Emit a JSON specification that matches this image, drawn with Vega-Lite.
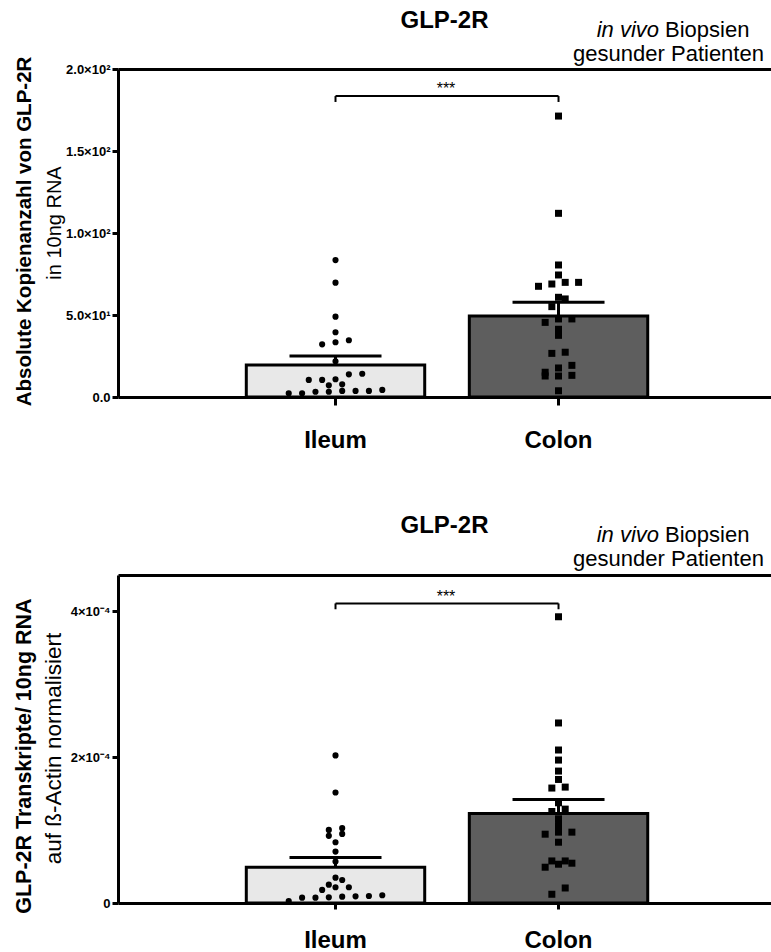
{
  "$schema": "https://vega.github.io/schema/vega-lite/v6.json",
  "padding": {"left": 13, "top": 9, "right": 0, "bottom": 0},
  "background": "white",
  "config": {
    "font": "Liberation Sans",
    "view": {"stroke": null},
    "axis": {"grid": false, "domainColor": "black", "tickColor": "black", "labelColor": "black", "titleColor": "black"}
  },
  "datasets": {
    "pts1": [
      {"group": "Ileum", "value": 83.5}, {"group": "Ileum", "value": 69.7}, {"group": "Ileum", "value": 49.0},
      {"group": "Ileum", "value": 39.5}, {"group": "Ileum", "value": 34.6}, {"group": "Ileum", "value": 33.4},
      {"group": "Ileum", "value": 32.1}, {"group": "Ileum", "value": 21.8}, {"group": "Ileum", "value": 13.8},
      {"group": "Ileum", "value": 14.2}, {"group": "Ileum", "value": 10.4}, {"group": "Ileum", "value": 10.8},
      {"group": "Ileum", "value": 10.4}, {"group": "Ileum", "value": 7.7}, {"group": "Ileum", "value": 7.1},
      {"group": "Ileum", "value": 3.2}, {"group": "Ileum", "value": 4.3}, {"group": "Ileum", "value": 3.7},
      {"group": "Ileum", "value": 3.7}, {"group": "Ileum", "value": 2.3}, {"group": "Ileum", "value": 3.7},
      {"group": "Ileum", "value": 2.3}, {"group": "Ileum", "value": 3.2},
      {"group": "Colon", "value": 171.3}, {"group": "Colon", "value": 112.0}, {"group": "Colon", "value": 80.5},
      {"group": "Colon", "value": 74.4}, {"group": "Colon", "value": 69.9}, {"group": "Colon", "value": 67.5},
      {"group": "Colon", "value": 68.9}, {"group": "Colon", "value": 69.9}, {"group": "Colon", "value": 59.8},
      {"group": "Colon", "value": 60.8}, {"group": "Colon", "value": 55.1}, {"group": "Colon", "value": 47.6},
      {"group": "Colon", "value": 45.5}, {"group": "Colon", "value": 47.6}, {"group": "Colon", "value": 41.3},
      {"group": "Colon", "value": 37.6}, {"group": "Colon", "value": 26.6}, {"group": "Colon", "value": 27.3},
      {"group": "Colon", "value": 19.3}, {"group": "Colon", "value": 17.7}, {"group": "Colon", "value": 15.1},
      {"group": "Colon", "value": 12.8}, {"group": "Colon", "value": 13.2}, {"group": "Colon", "value": 12.8},
      {"group": "Colon", "value": 3.8}
    ],
    "bars1": [
      {"group": "Ileum", "mean": 19.5, "upper": 25.0},
      {"group": "Colon", "mean": 49.4, "upper": 57.7}
    ],
    "pts2": [
      {"group": "Ileum", "value": 0.0002025}, {"group": "Ileum", "value": 0.0001516}, {"group": "Ileum", "value": 0.0001003},
      {"group": "Ileum", "value": 0.0001027}, {"group": "Ileum", "value": 0.0000921}, {"group": "Ileum", "value": 0.0000948},
      {"group": "Ileum", "value": 0.0000834}, {"group": "Ileum", "value": 0.0000705}, {"group": "Ileum", "value": 0.0000568},
      {"group": "Ileum", "value": 0.0000348}, {"group": "Ileum", "value": 0.0000316}, {"group": "Ileum", "value": 0.0000252},
      {"group": "Ileum", "value": 0.0000216}, {"group": "Ileum", "value": 0.0000216}, {"group": "Ileum", "value": 0.0000179},
      {"group": "Ileum", "value": 0.0000073}, {"group": "Ileum", "value": 0.0000106}, {"group": "Ileum", "value": 0.0000087},
      {"group": "Ileum", "value": 0.0000096}, {"group": "Ileum", "value": 0.0000092}, {"group": "Ileum", "value": 0.0000073},
      {"group": "Ileum", "value": 0.0000078}, {"group": "Ileum", "value": 0.0000027},
      {"group": "Colon", "value": 0.0003927}, {"group": "Colon", "value": 0.000247}, {"group": "Colon", "value": 0.0002099},
      {"group": "Colon", "value": 0.0001961}, {"group": "Colon", "value": 0.000181}, {"group": "Colon", "value": 0.0001695},
      {"group": "Colon", "value": 0.000159}, {"group": "Colon", "value": 0.0001577}, {"group": "Colon", "value": 0.0001375},
      {"group": "Colon", "value": 0.0001255}, {"group": "Colon", "value": 0.0001288}, {"group": "Colon", "value": 0.0001155},
      {"group": "Colon", "value": 0.0001063}, {"group": "Colon", "value": 0.0000972}, {"group": "Colon", "value": 0.0000944},
      {"group": "Colon", "value": 0.0000972}, {"group": "Colon", "value": 0.0000834}, {"group": "Colon", "value": 0.0000546},
      {"group": "Colon", "value": 0.0000577}, {"group": "Colon", "value": 0.0000577}, {"group": "Colon", "value": 0.0000532},
      {"group": "Colon", "value": 0.0000491}, {"group": "Colon", "value": 0.0000206}, {"group": "Colon", "value": 0.000012}
    ],
    "bars2": [
      {"group": "Ileum", "mean": 0.000049, "upper": 0.0000623},
      {"group": "Colon", "mean": 0.0001227, "upper": 0.000142}
    ],
    "sig": [{"from": "Ileum", "to": "Colon", "label": "***"}],
    "note": [{"italic": "in vivo", "regular": "Biopsien", "line2": "gesunder Patienten"}]
  },
  "spacing": 178,
  "bounds": "flush",
  "vconcat": [
    {
      "width": 653,
      "height": 328,
      "title": {"text": "GLP-2R", "fontSize": 24, "fontWeight": "bold", "anchor": "middle", "frame": "group", "baseline": "alphabetic", "offset": -33, "color": "black"},
      "resolve": {"axis": {"x": "independent", "y": "independent"}, "scale": {"xOffset": "independent"}},
      "layer": [
        {
          "data": {"name": "bars1"},
          "mark": {"type": "bar", "stroke": "black", "strokeWidth": 3},
          "encoding": {
            "x": {"field": "group", "type": "nominal",
              "scale": {"domain": ["Ileum", "Colon"], "paddingInner": 0.2, "paddingOuter": 0.564, "align": 0.51},
              "axis": {"orient": "bottom", "title": null, "labelAngle": 0, "labelFontSize": 24, "labelFontWeight": "bold", "labelPadding": 23, "tickSize": 8, "tickWidth": 3, "domainWidth": 3}},
            "y": {"field": "mean", "type": "quantitative",
              "scale": {"domain": [0, 200], "nice": false},
              "axis": {"orient": "left", "title": "Absolute Kopienanzahl von GLP-2R", "titleFontSize": 20.5, "titleFontWeight": "bold", "titleX": -88, "titleY": 162, "titleAngle": 270, "titleBaseline": "alphabetic", "titleAlign": "center",
                "values": [0, 50, 100, 150, 200],
                "labelExpr": "['0.0','5.0×10¹','1.0×10²','1.5×10²','2.0×10²'][round(datum.value/50)]",
                "labelFontSize": 13, "labelFontWeight": "bold", "labelPadding": 2, "tickSize": 6, "tickWidth": 3, "domainWidth": 3}},
            "color": {"field": "group", "type": "nominal", "scale": {"domain": ["Ileum", "Colon"], "range": ["#e8e8e8", "#5e5e5e"]}, "legend": null}
          }
        },
        {
          "data": {"name": "pts1"},
          "transform": [
            {"calculate": "floor(datum.value / 5)", "as": "row"},
            {"window": [{"op": "row_number", "as": "rank"}], "groupby": ["group", "row"], "sort": [{"field": "value", "order": "ascending"}]},
            {"joinaggregate": [{"op": "count", "as": "n"}], "groupby": ["group", "row"]},
            {"calculate": "(datum.rank - (datum.n + 1) / 2) * 2", "as": "dodge"}
          ],
          "mark": {"type": "point", "filled": true, "color": "black", "opacity": 1, "strokeWidth": 0},
          "encoding": {
            "x": {"field": "group", "type": "nominal", "axis": null},
            "xOffset": {"field": "dodge", "type": "quantitative", "scale": {"domain": [-13.35, 13.35]}},
            "y": {"field": "value", "type": "quantitative", "axis": null},
            "shape": {"field": "group", "type": "nominal", "scale": {"domain": ["Ileum", "Colon"], "range": ["circle", "square"]}, "legend": null},
            "size": {"field": "group", "type": "nominal", "scale": {"domain": ["Ileum", "Colon"], "range": [38, 49]}, "legend": null}
          }
        },
        {
          "data": {"name": "bars1"},
          "mark": {"type": "rule", "strokeWidth": 3, "color": "black"},
          "encoding": {
            "x": {"field": "group", "type": "nominal", "axis": {"orient": "top", "title": null, "labels": false, "ticks": false, "domainWidth": 3}},
            "y": {"field": "mean", "type": "quantitative",
              "axis": {"orient": "left", "title": "in 10ng RNA", "titleFontSize": 20, "titleFontWeight": "normal", "titleX": -58, "titleY": 153.5, "titleAngle": 270, "titleBaseline": "alphabetic", "titleAlign": "center", "labels": false, "ticks": false, "domain": false}},
            "y2": {"field": "upper"}
          }
        },
        {
          "data": {"name": "bars1"},
          "mark": {"type": "tick", "size": 92, "thickness": 3, "color": "black", "opacity": 1},
          "encoding": {
            "x": {"field": "group", "type": "nominal", "axis": null},
            "y": {"field": "upper", "type": "quantitative", "axis": null}
          }
        },
        {
          "data": {"name": "sig"},
          "mark": {"type": "rule", "strokeWidth": 2, "color": "black"},
          "encoding": {
            "x": {"field": "from", "type": "nominal", "axis": null},
            "x2": {"field": "to"},
            "y": {"datum": 183.5, "type": "quantitative", "axis": null}
          }
        },
        {
          "data": {"name": "bars1"},
          "mark": {"type": "rule", "strokeWidth": 2, "color": "black"},
          "encoding": {
            "x": {"field": "group", "type": "nominal", "axis": null},
            "y": {"datum": 183.5, "type": "quantitative", "axis": null},
            "y2": {"datum": 179.9}
          }
        },
        {
          "data": {"name": "sig"},
          "mark": {"type": "text", "fontSize": 16, "align": "center", "baseline": "alphabetic", "dx": 110.5, "color": "black"},
          "encoding": {
            "x": {"field": "from", "type": "nominal", "axis": null},
            "y": {"datum": 184.8, "type": "quantitative", "axis": null},
            "text": {"field": "label"}
          }
        },
        {
          "data": {"name": "note"},
          "mark": {"type": "text", "fontSize": 22, "fontStyle": "italic", "align": "right", "baseline": "alphabetic", "dx": 100.5, "color": "black"},
          "encoding": {
            "x": {"datum": "Colon", "type": "nominal", "axis": null},
            "y": {"datum": 219.3, "type": "quantitative", "axis": null},
            "text": {"field": "italic"}
          }
        },
        {
          "data": {"name": "note"},
          "mark": {"type": "text", "fontSize": 22, "align": "left", "baseline": "alphabetic", "dx": 106.5, "color": "black"},
          "encoding": {
            "x": {"datum": "Colon", "type": "nominal", "axis": null},
            "y": {"datum": 219.3, "type": "quantitative", "axis": null},
            "text": {"field": "regular"}
          }
        },
        {
          "data": {"name": "note"},
          "mark": {"type": "text", "fontSize": 22, "align": "center", "baseline": "alphabetic", "dx": 110, "color": "black"},
          "encoding": {
            "x": {"datum": "Colon", "type": "nominal", "axis": null},
            "y": {"datum": 204.9, "type": "quantitative", "axis": null},
            "text": {"field": "line2"}
          }
        }
      ]
    },
    {
      "width": 653,
      "height": 328,
      "title": {"text": "GLP-2R", "fontSize": 24, "fontWeight": "bold", "anchor": "middle", "frame": "group", "baseline": "alphabetic", "offset": -33, "color": "black"},
      "resolve": {"axis": {"x": "independent", "y": "independent"}, "scale": {"xOffset": "independent"}},
      "layer": [
        {
          "data": {"name": "bars2"},
          "mark": {"type": "bar", "stroke": "black", "strokeWidth": 3},
          "encoding": {
            "x": {"field": "group", "type": "nominal",
              "scale": {"domain": ["Ileum", "Colon"], "paddingInner": 0.2, "paddingOuter": 0.564, "align": 0.51},
              "axis": {"orient": "bottom", "title": null, "labelAngle": 0, "labelFontSize": 24, "labelFontWeight": "bold", "labelPadding": 19, "tickSize": 6, "tickWidth": 3, "domainWidth": 3}},
            "y": {"field": "mean", "type": "quantitative",
              "scale": {"domain": [0, 0.00045], "nice": false},
              "axis": {"orient": "left", "title": "GLP-2R Transkripte/ 10ng RNA", "titleFontSize": 21.5, "titleFontWeight": "bold", "titleX": -87.5, "titleY": 180.6, "titleAngle": 270, "titleBaseline": "alphabetic", "titleAlign": "center",
                "values": [0, 0.0002, 0.0004],
                "labelExpr": "datum.value < 0.0001 ? '0' : (datum.value < 0.0003 ? '2×10⁻⁴' : '4×10⁻⁴')",
                "labelFontSize": 13, "labelFontWeight": "bold", "labelPadding": 2, "tickSize": 6, "tickWidth": 3, "domainWidth": 3}},
            "color": {"field": "group", "type": "nominal", "scale": {"domain": ["Ileum", "Colon"], "range": ["#e8e8e8", "#5e5e5e"]}, "legend": null}
          }
        },
        {
          "data": {"name": "pts2"},
          "transform": [
            {"calculate": "floor(datum.value / 0.000011)", "as": "row"},
            {"window": [{"op": "row_number", "as": "rank"}], "groupby": ["group", "row"], "sort": [{"field": "value", "order": "ascending"}]},
            {"joinaggregate": [{"op": "count", "as": "n"}], "groupby": ["group", "row"]},
            {"calculate": "(datum.rank - (datum.n + 1) / 2) * 2", "as": "dodge"}
          ],
          "mark": {"type": "point", "filled": true, "color": "black", "opacity": 1, "strokeWidth": 0},
          "encoding": {
            "x": {"field": "group", "type": "nominal", "axis": null},
            "xOffset": {"field": "dodge", "type": "quantitative", "scale": {"domain": [-13.35, 13.35]}},
            "y": {"field": "value", "type": "quantitative", "axis": null},
            "shape": {"field": "group", "type": "nominal", "scale": {"domain": ["Ileum", "Colon"], "range": ["circle", "square"]}, "legend": null},
            "size": {"field": "group", "type": "nominal", "scale": {"domain": ["Ileum", "Colon"], "range": [38, 49]}, "legend": null}
          }
        },
        {
          "data": {"name": "bars2"},
          "mark": {"type": "rule", "strokeWidth": 3, "color": "black"},
          "encoding": {
            "x": {"field": "group", "type": "nominal", "axis": {"orient": "top", "title": null, "labels": false, "ticks": false, "domainWidth": 3}},
            "y": {"field": "mean", "type": "quantitative",
              "axis": {"orient": "left", "title": "auf ß-Actin normalisiert", "titleFontSize": 22.5, "titleFontWeight": "normal", "titleX": -58, "titleY": 173, "titleAngle": 270, "titleBaseline": "alphabetic", "titleAlign": "center", "labels": false, "ticks": false, "domain": false}},
            "y2": {"field": "upper"}
          }
        },
        {
          "data": {"name": "bars2"},
          "mark": {"type": "tick", "size": 92, "thickness": 3, "color": "black", "opacity": 1},
          "encoding": {
            "x": {"field": "group", "type": "nominal", "axis": null},
            "y": {"field": "upper", "type": "quantitative", "axis": null}
          }
        },
        {
          "data": {"name": "sig"},
          "mark": {"type": "rule", "strokeWidth": 2, "color": "black"},
          "encoding": {
            "x": {"field": "from", "type": "nominal", "axis": null},
            "x2": {"field": "to"},
            "y": {"datum": 0.000411, "type": "quantitative", "axis": null}
          }
        },
        {
          "data": {"name": "bars2"},
          "mark": {"type": "rule", "strokeWidth": 2, "color": "black"},
          "encoding": {
            "x": {"field": "group", "type": "nominal", "axis": null},
            "y": {"datum": 0.000411, "type": "quantitative", "axis": null},
            "y2": {"datum": 0.000403}
          }
        },
        {
          "data": {"name": "sig"},
          "mark": {"type": "text", "fontSize": 16, "align": "center", "baseline": "alphabetic", "dx": 110.5, "color": "black"},
          "encoding": {
            "x": {"field": "from", "type": "nominal", "axis": null},
            "y": {"datum": 0.000413, "type": "quantitative", "axis": null},
            "text": {"field": "label"}
          }
        },
        {
          "data": {"name": "note"},
          "mark": {"type": "text", "fontSize": 22, "fontStyle": "italic", "align": "right", "baseline": "alphabetic", "dx": 100.5, "color": "black"},
          "encoding": {
            "x": {"datum": "Colon", "type": "nominal", "axis": null},
            "y": {"datum": 0.0004951, "type": "quantitative", "axis": null},
            "text": {"field": "italic"}
          }
        },
        {
          "data": {"name": "note"},
          "mark": {"type": "text", "fontSize": 22, "align": "left", "baseline": "alphabetic", "dx": 106.5, "color": "black"},
          "encoding": {
            "x": {"datum": "Colon", "type": "nominal", "axis": null},
            "y": {"datum": 0.0004951, "type": "quantitative", "axis": null},
            "text": {"field": "regular"}
          }
        },
        {
          "data": {"name": "note"},
          "mark": {"type": "text", "fontSize": 22, "align": "center", "baseline": "alphabetic", "dx": 110, "color": "black"},
          "encoding": {
            "x": {"datum": "Colon", "type": "nominal", "axis": null},
            "y": {"datum": 0.0004625, "type": "quantitative", "axis": null},
            "text": {"field": "line2"}
          }
        }
      ]
    }
  ]
}
